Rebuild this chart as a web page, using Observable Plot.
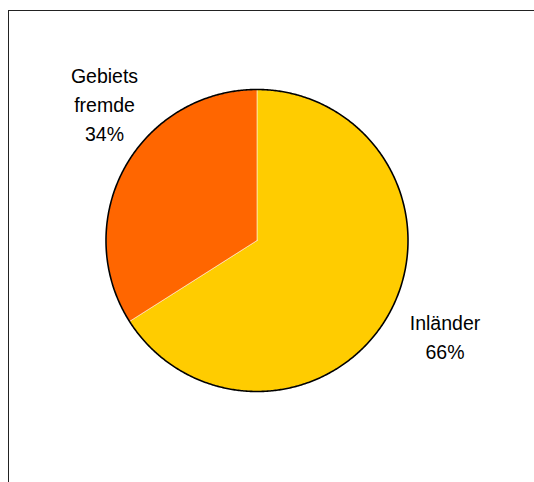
<!DOCTYPE html>
<html>
<head>
<meta charset="utf-8">
<script src="https://cdn.jsdelivr.net/npm/d3@7"></script>
<script src="https://cdn.jsdelivr.net/npm/@observablehq/plot@0.6"></script>
<style>
  html, body { margin: 0; padding: 0; background: #fff; overflow: hidden; }
  #wrap { position: relative; width: 534px; height: 482px; }
  #box { position: absolute; left: 8px; top: 10px; width: 600px; height: 600px;
         border-left: 1px solid #222; border-top: 1px solid #222; }
  #chart { position: absolute; left: 0; top: 0; }
</style>
</head>
<body>
<div id="wrap"><div id="box"></div><div id="chart"></div></div>
<script>
// Share of overnight guests by origin
const categories = ["Inländer", "Gebietsfremde"];
const labelLines = [["Inländer"], ["Gebiets", "fremde"]];
const shares = [66, 34];
const colors = ["#FFCC00", "#FF6600"];

// Layout: pie centre and radius in pixels, label anchors in units of the radius
const W = 534, H = 482, CX = 256.5, CY = 240, R = 151;
const labelAnchor = [[1.245, -0.628], [-1.01, 0.913]];

const data = categories.map((c, i) => ({category: c, share: shares[i], color: colors[i]}));
const arcs = d3.pie().sort(null).value(d => d.share)(data);

// Polygon outline of each slice: centre, then the arc clockwise from 12 o'clock
const step = Math.PI / 360;
const slicePts = arcs.flatMap(a => {
  const pts = [{x: 0, y: 0, k: a.data.category}];
  for (let t = a.startAngle; t < a.endAngle; t += step) pts.push({x: Math.sin(t), y: Math.cos(t), k: a.data.category});
  pts.push({x: Math.sin(a.endAngle), y: Math.cos(a.endAngle), k: a.data.category});
  pts.push({x: 0, y: 0, k: a.data.category});
  return pts;
});
const rimPts = d3.range(0, 2 * Math.PI + step, step).map(t => ({x: Math.sin(t), y: Math.cos(t)}));

const labels = arcs.map((a, i) => ({
  x: labelAnchor[i][0], y: labelAnchor[i][1],
  text: [...labelLines[i], `${a.data.share}%`].join("\n")
}));

const chart = Plot.plot({
  width: W, height: H,
  margin: 0,
  x: {domain: [-CX / R, (W - CX) / R], range: [0, W], axis: null},
  y: {domain: [-(H - CY) / R, CY / R], range: [H, 0], axis: null},
  style: {fontFamily: "Arial, 'Liberation Sans', sans-serif", background: "transparent"},
  marks: [
    Plot.line(slicePts, {x: "x", y: "y", z: "k", fill: d => data.find(e => e.category === d.k).color,
      stroke: "#fff4e0", strokeWidth: 0.6, curve: "linear"}),
    Plot.line(rimPts, {x: "x", y: "y", stroke: "#000", strokeWidth: 1.6, curve: "linear"}),
    Plot.text(labels, {x: "x", y: "y", text: "text", fontSize: 19.5, lineHeight: 1.51,
      fill: "#000", textAnchor: "middle"})
  ]
});
document.getElementById("chart").appendChild(chart);
</script>
</body>
</html>
